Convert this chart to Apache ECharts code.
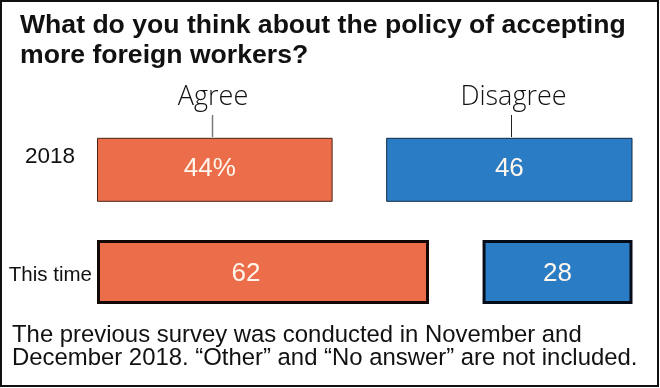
<!DOCTYPE html>
<html>
<head>
<meta charset="utf-8">
<script src="https://cdn.jsdelivr.net/npm/echarts@6/dist/echarts.min.js"></script>
<style>
  html, body { margin: 0; padding: 0; background: #ffffff; }
  #chart { width: 660px; height: 388px; }
</style>
</head>
<body>
<div id="chart"></div>
<script>
// ---- data ----
const categories = ['2018', 'This time'];
const seriesNames = ['Agree', 'Disagree'];
const agree = [44, 62];
const disagree = [46, 28];
const titleLines = ['What do you think about the policy of accepting', 'more foreign workers?'];
const noteLines = ['The previous survey was conducted in November and',
                   'December 2018. \u201COther\u201D and \u201CNo answer\u201D are not included.'];

// ---- styles ----
const ORANGE = '#EC6D49';
const BLUE = '#2A7DC4';
const thinOrange = { color: ORANGE, borderColor: '#4a2315', borderWidth: 1 };
const thickOrange = { color: ORANGE, borderColor: '#140805', borderWidth: 3 };
const thinBlue = { color: BLUE, borderColor: '#0f2a45', borderWidth: 1 };
const thickBlue = { color: BLUE, borderColor: '#050d18', borderWidth: 3 };
const agreeStyles = [thinOrange, thickOrange];
const disagreeStyles = [thinBlue, thickBlue];
const agreeLabelOffsets = [[-5, -1], [-17, 1.5]];
const disagreeLabelOffsets = [[0, -1], [0, 1.5]];
const catLabelStyles = [
  { fontSize: 22.5, fontFamily: "'Liberation Sans', Arial, sans-serif", verticalAlign: 'bottom', lineHeight: 27, padding: [0, 17, 0, 0] },
  { fontSize: 20.5, fontFamily: "'Liberation Sans', Arial, sans-serif", verticalAlign: 'top', lineHeight: 7.4 }
];

const chart = echarts.init(document.getElementById('chart'), null, { renderer: 'canvas' });

const valueLabel = {
  show: true,
  position: 'inside',
  color: '#fff7ee',
  fontSize: 26,
  fontFamily: "'Liberation Sans', Arial, sans-serif"
};

const option = {
  animation: false,
  backgroundColor: '#ffffff',
  grid: { left: 97, right: 27.5, top: 118.65, bottom: 64.75 },
  xAxis: [
    { type: 'value', min: 0, max: 100, show: false },
    { type: 'value', min: 0, max: 100, inverse: true, show: false }
  ],
  yAxis: {
    type: 'category',
    inverse: true,
    data: categories.map((c, i) => ({ value: c, textStyle: catLabelStyles[i] })),
    axisLine: { show: false },
    axisTick: { show: false },
    axisLabel: { margin: 5, color: '#111', align: 'right' }
  },
  series: [
    {
      name: seriesNames[0],
      type: 'bar',
      xAxisIndex: 0,
      barWidth: 64,
      barGap: '-100%',
      data: agree.map((v, i) => ({ value: v, itemStyle: agreeStyles[i], label: { offset: agreeLabelOffsets[i] } })),
      label: Object.assign({}, valueLabel, {
        formatter: p => p.dataIndex === 0 ? p.value + '%' : String(p.value)
      })
    },
    {
      name: seriesNames[1],
      type: 'bar',
      xAxisIndex: 1,
      barWidth: 64,
      barGap: '-100%',
      data: disagree.map((v, i) => ({ value: v, itemStyle: disagreeStyles[i], label: { offset: disagreeLabelOffsets[i] } })),
      label: Object.assign({}, valueLabel, { formatter: p => String(p.value) })
    }
  ],
  graphic: [
    { type: 'rect', shape: { x: 1, y: 1, width: 657, height: 385 }, style: { fill: 'none', stroke: '#111', lineWidth: 2 }, silent: true },
    { type: 'text', x: 20, y: 26, style: { text: titleLines[0], font: "bold 26.6px 'Liberation Sans', Arial, sans-serif", fill: '#111', verticalAlign: 'middle' } },
    { type: 'text', x: 20, y: 56, style: { text: titleLines[1], font: "bold 26.6px 'Liberation Sans', Arial, sans-serif", fill: '#111', verticalAlign: 'middle' } },
    { type: 'text', x: 213, y: 97, style: { text: seriesNames[0], font: "300 27px 'Open Sans', 'Noto Sans', sans-serif", fill: '#111', align: 'center', verticalAlign: 'middle' } },
    { type: 'text', x: 513.5, y: 97, style: { text: seriesNames[1], font: "300 27px 'Open Sans', 'Noto Sans', sans-serif", fill: '#111', align: 'center', verticalAlign: 'middle' } },
    { type: 'line', shape: { x1: 212.5, y1: 115, x2: 212.5, y2: 137 }, style: { stroke: '#7a7a7a', lineWidth: 1.5 } },
    { type: 'line', shape: { x1: 511.5, y1: 115, x2: 511.5, y2: 137 }, style: { stroke: '#222', lineWidth: 1 } },
    { type: 'text', x: 12, y: 335.5, style: { text: noteLines[0], font: "23.9px 'Liberation Sans', Arial, sans-serif", fill: '#111', verticalAlign: 'middle' } },
    { type: 'text', x: 12, y: 358.5, style: { text: noteLines[1], font: "23.9px 'Liberation Sans', Arial, sans-serif", fill: '#111', verticalAlign: 'middle' } }
  ]
};

chart.setOption(option);
</script>
</body>
</html>
